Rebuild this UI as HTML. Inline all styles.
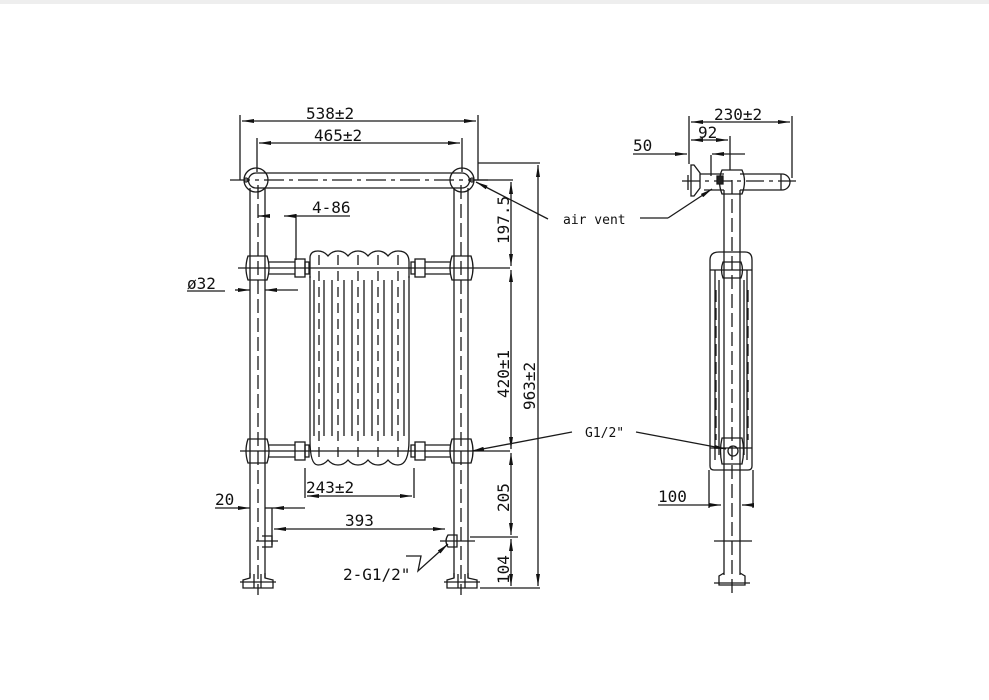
<!DOCTYPE html>
<html><head><meta charset="utf-8"><style>
html,body{margin:0;padding:0;background:#fff;}
svg{display:block}
text{font-family:"DejaVu Sans Mono","Liberation Mono",monospace;fill:#111}
</style></head><body>
<svg width="989" height="700" viewBox="0 0 989 700" xmlns="http://www.w3.org/2000/svg">
<rect x="0" y="0" width="989" height="4" fill="#eee"/>
<defs>
<marker id="a" viewBox="0 0 12 4" refX="12" refY="2" markerWidth="12" markerHeight="4" orient="auto-start-reverse" markerUnits="userSpaceOnUse"><path d="M0,0L12,2L0,4z" fill="#111"/></marker>
</defs>
<g stroke="#1a1a1a" stroke-width="1.3" fill="none">
<!-- FRONT VIEW -->
<line x1="250" y1="188" x2="250" y2="578"/><line x1="265" y1="188" x2="265" y2="578"/>
<line x1="454" y1="188" x2="454" y2="578"/><line x1="468" y1="188" x2="468" y2="578"/>
<line x1="258" y1="185" x2="258" y2="595" stroke-dasharray="14,5"/>
<line x1="461" y1="185" x2="461" y2="595" stroke-dasharray="14,5"/>
<path d="M256,173 H462 A7.5,7.5 0 0 1 462,188 H256 A7.5,7.5 0 0 1 256,173z"/>
<circle cx="256" cy="180" r="12"/><circle cx="462" cy="180" r="12"/>
<circle cx="246" cy="180" r="2"/><circle cx="472" cy="180" r="2"/>
<line x1="230" y1="180" x2="490" y2="180" stroke-dasharray="20,5,4,5"/>
<path d="M248,256 H267 Q271,268 267,280 H248 Q244,268 248,256z"/>
<path d="M452,256 H471 Q475,268 471,280 H452 Q448,268 452,256z"/>
<path d="M248,439 H267 Q271,451 267,463 H248 Q244,451 248,439z"/>
<path d="M452,439 H471 Q475,451 471,463 H452 Q448,451 452,439z"/>
<line x1="268" y1="262" x2="295" y2="262"/><line x1="268" y1="274" x2="295" y2="274"/>
<line x1="425" y1="262" x2="450" y2="262"/><line x1="425" y1="274" x2="450" y2="274"/>
<line x1="268" y1="445" x2="295" y2="445"/><line x1="268" y1="457" x2="295" y2="457"/>
<line x1="425" y1="445" x2="450" y2="445"/><line x1="425" y1="457" x2="450" y2="457"/>
<rect x="295" y="259" width="10" height="18"/><rect x="415" y="259" width="10" height="18"/>
<rect x="295" y="442" width="10" height="18"/><rect x="415" y="442" width="10" height="18"/>
<rect x="305" y="262" width="4" height="12"/><rect x="411" y="262" width="4" height="12"/>
<rect x="305" y="445" width="4" height="12"/><rect x="411" y="445" width="4" height="12"/>
<path d="M310,258 Q310,251 318,251 Q324,251 328,256 Q332,251 338,251 Q344,251 348,256 Q352,251 358,251 Q364,251 368,256 Q372,251 378,251 Q384,251 388,256 Q392,251 398,251 Q409,251 409,262 V278"/>
<path d="M310,278 V258"/>
<path d="M310,440 Q310,465 318,465 Q324,465 328,460 Q332,465 338,465 Q344,465 348,460 Q352,465 358,465 Q364,465 368,460 Q372,465 378,465 Q384,465 388,460 Q392,465 398,465 Q409,465 409,440"/>
<line x1="310" y1="276" x2="310" y2="440"/><line x1="409" y1="276" x2="409" y2="440"/>
<line x1="314" y1="280" x2="314" y2="436"/><line x1="324" y1="280" x2="324" y2="436"/>
<line x1="332" y1="280" x2="332" y2="436"/><line x1="344" y1="280" x2="344" y2="436"/>
<line x1="352" y1="280" x2="352" y2="436"/><line x1="364" y1="280" x2="364" y2="436"/>
<line x1="372" y1="280" x2="372" y2="436"/><line x1="384" y1="280" x2="384" y2="436"/>
<line x1="392" y1="280" x2="392" y2="436"/><line x1="404" y1="280" x2="404" y2="436"/>
<g stroke-dasharray="10,6">
<line x1="319" y1="255" x2="319" y2="462"/><line x1="338" y1="255" x2="338" y2="462"/>
<line x1="358" y1="255" x2="358" y2="462"/><line x1="378" y1="255" x2="378" y2="462"/>
<line x1="398" y1="255" x2="398" y2="462"/>
</g>
<line x1="238" y1="268" x2="510" y2="268"/>
<line x1="240" y1="451" x2="510" y2="451"/>
<line x1="265" y1="508" x2="272" y2="508"/><line x1="272" y1="508" x2="272" y2="545"/>
<path d="M262,536 H272 V547 H262"/><line x1="256" y1="541" x2="278" y2="541"/>
<path d="M457,535 H448 Q444,541 448,547 H457z"/><line x1="440" y1="541" x2="475" y2="541"/>
<line x1="470" y1="537" x2="518" y2="537"/>
<path d="M250,573 V578 L243,580 V588 H273 V580 L265,578 V573"/>
<line x1="240" y1="582" x2="276" y2="582"/><line x1="254" y1="574" x2="254" y2="588"/><line x1="261" y1="574" x2="261" y2="588"/>
<path d="M454,573 V578 L447,580 V588 H477 V580 L468,578 V573"/>
<line x1="444" y1="582" x2="480" y2="582"/><line x1="458" y1="574" x2="458" y2="588"/><line x1="465" y1="574" x2="465" y2="588"/>
<line x1="480" y1="588" x2="540" y2="588"/>
<line x1="240" y1="115" x2="240" y2="180"/><line x1="478" y1="115" x2="478" y2="180"/>
<line x1="242" y1="121" x2="476" y2="121" marker-start="url(#a)" marker-end="url(#a)"/>
<line x1="257" y1="138" x2="257" y2="172"/><line x1="462" y1="138" x2="462" y2="172"/>
<line x1="259" y1="143" x2="460" y2="143" marker-start="url(#a)" marker-end="url(#a)"/>
<line x1="478" y1="163" x2="540" y2="163"/>
<line x1="538" y1="165" x2="538" y2="586" marker-start="url(#a)" marker-end="url(#a)"/>
<line x1="470" y1="180" x2="513" y2="180"/>
<line x1="511" y1="182" x2="511" y2="266" marker-start="url(#a)" marker-end="url(#a)"/>
<line x1="511" y1="270" x2="511" y2="449" marker-start="url(#a)" marker-end="url(#a)"/>
<line x1="511" y1="453" x2="511" y2="535" marker-start="url(#a)" marker-end="url(#a)"/>
<line x1="511" y1="539" x2="511" y2="586" marker-start="url(#a)" marker-end="url(#a)"/>
<line x1="296" y1="214" x2="296" y2="260"/>
<line x1="258" y1="216" x2="270" y2="216" marker-start="url(#a)"/>
<line x1="284" y1="216" x2="350" y2="216" marker-start="url(#a)"/>
<line x1="235" y1="290" x2="250" y2="290" marker-end="url(#a)"/>
<line x1="265" y1="290" x2="298" y2="290" marker-start="url(#a)"/>
<line x1="187" y1="291" x2="225" y2="291"/>
<line x1="305" y1="468" x2="305" y2="498"/><line x1="414" y1="468" x2="414" y2="498"/>
<line x1="307" y1="496" x2="412" y2="496" marker-start="url(#a)" marker-end="url(#a)"/>
<line x1="215" y1="508" x2="250" y2="508" marker-end="url(#a)"/>
<line x1="272" y1="508" x2="305" y2="508" marker-start="url(#a)"/>
<line x1="274" y1="529" x2="445" y2="529" marker-start="url(#a)" marker-end="url(#a)"/>
<path d="M406,556 H421 L418,571 L448,544" marker-end="url(#a)"/>
<line x1="548" y1="219" x2="476" y2="182" marker-end="url(#a)"/>
<line x1="572" y1="432" x2="472" y2="451" marker-end="url(#a)"/>
<!-- SIDE VIEW -->
<line x1="724" y1="190" x2="724" y2="575"/><line x1="740" y1="190" x2="740" y2="575"/>
<line x1="732" y1="180" x2="732" y2="595" stroke-dasharray="14,5"/>
<path d="M700,174 H724 M740,174 H782 A8,8 0 0 1 782,190 H740 M724,190 H704"/>
<path d="M722,170 H742 Q747,181 742,194 H722 Q717,181 722,170z"/>
<path d="M691,165 V196 H694 L700,188 V173 L694,165z"/>
<line x1="688" y1="175" x2="688" y2="190"/>
<line x1="682" y1="181" x2="800" y2="181" stroke-dasharray="18,5,4,5"/>
<line x1="781" y1="174" x2="781" y2="190"/>
<path d="M717,176 h6 v8 h-6z" fill="#222"/>
<path d="M719,252 H745 Q752,252 752,260 V466 Q752,470 748,470 H714 Q710,470 710,466 V260 Q710,252 719,252z"/>
<line x1="710" y1="270" x2="752" y2="270"/><line x1="710" y1="448" x2="752" y2="448"/>
<path d="M723,262 H741 Q744,270 741,278 H723 Q720,270 723,262z"/>
<line x1="715" y1="270" x2="715" y2="460"/><line x1="747" y1="270" x2="747" y2="460"/>
<line x1="719" y1="280" x2="719" y2="455"/><line x1="744" y1="280" x2="744" y2="455"/>
<g stroke-dasharray="12,6"><line x1="716" y1="290" x2="716" y2="440"/><line x1="748" y1="290" x2="748" y2="440"/></g>
<path d="M722,438 H742 Q745,451 742,464 H722 Q719,451 722,438z"/>
<circle cx="733" cy="451" r="5"/>
<line x1="709" y1="470" x2="709" y2="508"/><line x1="753" y1="470" x2="753" y2="508"/>
<line x1="658" y1="505" x2="721" y2="505" marker-end="url(#a)"/>
<line x1="742" y1="505" x2="753" y2="505" marker-start="url(#a)"/>
<line x1="714" y1="541" x2="752" y2="541"/>
<path d="M724,573 L719,576 V585 H745 V576 L740,573"/>
<line x1="714" y1="583" x2="750" y2="583"/>
<line x1="636" y1="432" x2="726" y2="449" marker-end="url(#a)"/>
<line x1="689" y1="116" x2="689" y2="164"/><line x1="792" y1="116" x2="792" y2="178"/>
<line x1="691" y1="122" x2="790" y2="122" marker-start="url(#a)" marker-end="url(#a)"/>
<line x1="730" y1="136" x2="730" y2="170"/><line x1="711" y1="155" x2="711" y2="176"/>
<line x1="691" y1="140" x2="728" y2="140" marker-start="url(#a)" marker-end="url(#a)"/>
<line x1="633" y1="154" x2="687" y2="154" marker-end="url(#a)"/>
<line x1="712" y1="154" x2="745" y2="154" marker-start="url(#a)"/>
<line x1="640" y1="218" x2="668" y2="218"/>
<line x1="668" y1="218" x2="712" y2="189" marker-end="url(#a)"/>
</g>
<g font-size="16">
<text x="306" y="119">538±2</text>
<text x="314" y="141">465±2</text>
<text x="312" y="213">4-86</text>
<text x="187" y="289">ø32</text>
<text x="306" y="493">243±2</text>
<text x="215" y="505">20</text>
<text x="345" y="526">393</text>
<text x="343" y="580">2-G1/2"</text>
<text x="714" y="120">230±2</text>
<text x="698" y="138">92</text>
<text x="633" y="151">50</text>
<text x="658" y="502">100</text>
<text transform="translate(509,244) rotate(-90)">197.5</text>
<text transform="translate(509,398) rotate(-90)">420±1</text>
<text transform="translate(535,410) rotate(-90)">963±2</text>
<text transform="translate(509,512) rotate(-90)">205</text>
<text transform="translate(509,584) rotate(-90)">104</text>
</g>
<g font-size="13">
<text x="563" y="224">air vent</text>
<text x="585" y="437">G1/2"</text>
</g>
</svg>
</body></html>
